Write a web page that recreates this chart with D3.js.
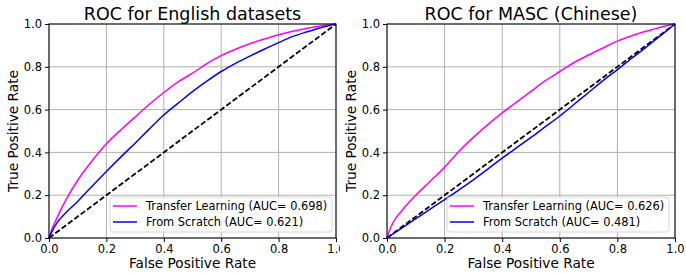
<!DOCTYPE html>
<html>
<head>
<meta charset="utf-8">
<script src="https://cdn.jsdelivr.net/npm/d3@7"></script>
<style>
  body { margin: 0; background: #fff; }
  svg { display: block; font-family: "DejaVu Sans", sans-serif; }
</style>
</head>
<body>
<svg id="chart"></svg>
<script>
// ROC points
const fprEnTransfer = [0, 0.01, 0.03, 0.06, 0.1, 0.15, 0.2, 0.25, 0.3, 0.35, 0.4, 0.45, 0.5, 0.55, 0.6, 0.65, 0.7, 0.75, 0.8, 0.85, 0.9, 0.95, 1];
const tprEnTransfer = [0, 0.04, 0.10, 0.18, 0.27, 0.36, 0.44, 0.505, 0.565, 0.625, 0.68, 0.73, 0.77, 0.815, 0.852, 0.882, 0.908, 0.93, 0.95, 0.966, 0.98, 0.992, 1];
const fprEnScratch = [0, 0.01, 0.03, 0.06, 0.1, 0.15, 0.2, 0.25, 0.3, 0.35, 0.4, 0.45, 0.5, 0.55, 0.6, 0.65, 0.7, 0.75, 0.8, 0.85, 0.9, 0.95, 1];
const tprEnScratch = [0, 0.03, 0.075, 0.12, 0.171, 0.242, 0.311, 0.378, 0.443, 0.51, 0.575, 0.63, 0.684, 0.733, 0.778, 0.816, 0.85, 0.882, 0.913, 0.942, 0.964, 0.984, 1];

const fprZhTransfer = [0, 0.01, 0.02, 0.05, 0.1, 0.15, 0.2, 0.25, 0.3, 0.35, 0.4, 0.45, 0.5, 0.55, 0.6, 0.65, 0.7, 0.75, 0.8, 0.85, 0.9, 0.95, 1];
const tprZhTransfer = [0, 0.04, 0.07, 0.125, 0.2, 0.265, 0.33, 0.405, 0.47, 0.53, 0.585, 0.635, 0.685, 0.735, 0.778, 0.82, 0.855, 0.888, 0.92, 0.945, 0.966, 0.985, 1];
const fprZhScratch = [0, 0.05, 0.1, 0.15, 0.2, 0.25, 0.3, 0.35, 0.4, 0.45, 0.5, 0.55, 0.6, 0.65, 0.7, 0.75, 0.8, 0.85, 0.9, 0.95, 1];
const tprZhScratch = [0, 0.045, 0.09, 0.135, 0.179, 0.225, 0.272, 0.322, 0.373, 0.422, 0.47, 0.52, 0.57, 0.625, 0.68, 0.735, 0.787, 0.84, 0.892, 0.946, 1];

const titles = ["ROC for English datasets", "ROC for MASC (Chinese)"];
const legendLabels = [
  ["Transfer Learning (AUC= 0.698)", "From Scratch (AUC= 0.621)"],
  ["Transfer Learning (AUC= 0.626)", "From Scratch (AUC= 0.481)"]
];
const ticks = [0, 0.2, 0.4, 0.6, 0.8, 1.0];

const width = 686, height = 273;
const svg = d3.select('#chart').attr('width', width).attr('height', height);

const panels = [
  { left: 49, right: 336, clipX: 0, clipW: 340,
    series: [[fprEnTransfer, tprEnTransfer], [fprEnScratch, tprEnScratch]],
    legend: { x: 110, y: 197, w: 222, h: 35 } },
  { left: 387, right: 675, clipX: 340, clipW: 346,
    series: [[fprZhTransfer, tprZhTransfer], [fprZhScratch, tprZhScratch]],
    legend: { x: 447, y: 197, w: 222, h: 35 } }
];
const plotTop = 24, plotBottom = 238;
const colors = ['#ff00ff', '#0000ff'];

panels.forEach((p, i) => {
  const clipId = 'clip' + i;
  svg.append('clipPath').attr('id', clipId)
    .append('rect').attr('x', p.clipX).attr('y', 0)
    .attr('width', p.clipW).attr('height', height);

  const g = svg.append('g').attr('clip-path', `url(#${clipId})`);

  const x = d3.scaleLinear().domain([0, 1]).range([p.left, p.right]);
  const y = d3.scaleLinear().domain([0, 1]).range([plotBottom, plotTop]);

  // grid
  g.append('g').selectAll('line').data(ticks).join('line')
    .attr('x1', d => x(d)).attr('x2', d => x(d))
    .attr('y1', plotTop).attr('y2', plotBottom)
    .attr('stroke', '#b0b0b0').attr('stroke-width', 1);
  g.append('g').selectAll('line').data(ticks).join('line')
    .attr('y1', d => y(d)).attr('y2', d => y(d))
    .attr('x1', p.left).attr('x2', p.right)
    .attr('stroke', '#b0b0b0').attr('stroke-width', 1);

  // axes
  const fmt = d3.format('.1f');
  const xa = g.append('g').attr('transform', `translate(0,${plotBottom})`)
    .call(d3.axisBottom(x).tickValues(ticks).tickFormat(fmt).tickSize(4).tickPadding(3));
  const ya = g.append('g').attr('transform', `translate(${p.left},0)`)
    .call(d3.axisLeft(y).tickValues(ticks).tickFormat(fmt).tickSize(4).tickPadding(3));
  [xa, ya].forEach(a => {
    a.select('.domain').remove();
    a.selectAll('text').attr('font-size', 11.5).attr('fill', '#000')
      .attr('font-family', '"DejaVu Sans", sans-serif');
    a.selectAll('line').attr('stroke', '#000');
  });

  // diagonal
  const line = d3.line().x(d => x(d[0])).y(d => y(d[1]));
  g.append('path').datum([[0, 0], [1, 1]]).attr('d', line)
    .attr('fill', 'none').attr('stroke', '#000').attr('stroke-width', 1.8)
    .attr('stroke-dasharray', '5.5,2.4');

  // curves
  const curve = d3.line().x(d => x(d[0])).y(d => y(d[1])).curve(d3.curveMonotoneX);
  p.series.forEach(([fx, ty], k) => {
    const pts = fx.map((v, j) => [v, ty[j]]);
    g.append('path').datum(pts).attr('d', curve)
      .attr('fill', 'none').attr('stroke', colors[k]).attr('stroke-width', 1.5);
  });

  // spines
  g.append('rect').attr('x', p.left).attr('y', plotTop)
    .attr('width', p.right - p.left).attr('height', plotBottom - plotTop)
    .attr('fill', 'none').attr('stroke', '#000').attr('stroke-width', 1);

  // legend
  const L = p.legend;
  const lg = g.append('g');
  lg.append('rect').attr('x', L.x).attr('y', L.y).attr('width', L.w).attr('height', L.h)
    .attr('rx', 3).attr('fill', '#fff').attr('fill-opacity', 0.8)
    .attr('stroke', '#d6d6d6').attr('stroke-width', 1);
  legendLabels[i].forEach((t, k) => {
    const ly = L.y + 9 + k * 16;
    lg.append('line').attr('x1', L.x + 3).attr('x2', L.x + 27)
      .attr('y1', ly).attr('y2', ly)
      .attr('stroke', colors[k]).attr('stroke-width', 1.5);
    lg.append('text').attr('x', L.x + 36).attr('y', ly + 4)
      .attr('font-size', 11.4).text(t);
  });

  // labels
  const cx = (p.left + p.right) / 2;
  g.append('text').attr('x', cx).attr('y', 20).attr('text-anchor', 'middle')
    .attr('font-size', 17.5).text(titles[i]);
  g.append('text').attr('x', cx).attr('y', 268).attr('text-anchor', 'middle')
    .attr('font-size', 13.7).text('False Positive Rate');
  g.append('text').attr('transform', `translate(${p.left - 31},${(plotTop + plotBottom) / 2}) rotate(-90)`)
    .attr('text-anchor', 'middle').attr('font-size', 13.7).text('True Positive Rate');
});
</script>
</body>
</html>
